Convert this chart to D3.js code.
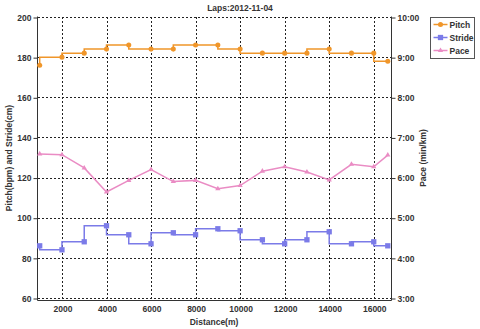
<!DOCTYPE html>
<html>
<head>
<meta charset="utf-8">
<script src="https://cdn.jsdelivr.net/npm/d3@7"></script>
<style>
body { margin: 0; background: #fff; }
text { font-family: "Liberation Sans", Arial, sans-serif; font-weight: bold; }
</style>
</head>
<body>
<div id="chart"></div>
<script>
// lap data
var distance = [1000, 2000, 3000, 4000, 5000, 6000, 7000, 8000, 9000, 10000, 11000, 12000, 13000, 14000, 15000, 16000, 16630]
var pitch = [176, 180, 182, 184, 186, 184, 184, 186, 186, 184, 182, 182, 182, 184, 182, 182, 178]
var stride = [86, 84, 88, 96, 91.5, 87, 92.5, 91.5, 94.5, 93.5, 89, 87, 89, 93, 87, 88, 86]
var pace = [6.59, 6.57, 6.24, 5.64, 5.93, 6.2, 5.9, 5.93, 5.72, 5.8, 6.16, 6.27, 6.14, 5.94, 6.33, 6.27, 6.56]
var xTicks = [2000, 4000, 6000, 8000, 10000, 12000, 14000, 16000]
var leftTicks = [60, 80, 100, 120, 140, 160, 180, 200]
var rightTicks = [3, 4, 5, 6, 7, 8, 9, 10]
var seriesNames = ['Pitch', 'Stride', 'Pace']
var colors = {Pitch: '#f0962a', Stride: '#7b7be8', Pace: '#ea8cc4'}

var width = 480, height = 329
var svg = d3.select('#chart').append('svg')
    .attr('width', width)
    .attr('height', height)

var x = d3.scaleLinear().domain([924, 16775]).range([38, 391])
var yL = d3.scaleLinear().domain([60, 200]).range([298, 17])
var yR = d3.scaleLinear().domain([3, 10]).range([298, 17])

// grid
var grid = svg.append('g')
grid.selectAll('.hg').data(leftTicks).enter().append('line')
    .attr('x1', 38).attr('x2', 391)
    .attr('y1', function (d) { return Math.round(yL(d)) + 0.5 })
    .attr('y2', function (d) { return Math.round(yL(d)) + 0.5 })
    .attr('stroke', '#222').attr('stroke-dasharray', '2,2')
grid.selectAll('.vg').data(xTicks).enter().append('line')
    .attr('y1', 17).attr('y2', 300)
    .attr('x1', function (d) { return Math.round(x(d)) + 0.5 })
    .attr('x2', function (d) { return Math.round(x(d)) + 0.5 })
    .attr('stroke', '#222').attr('stroke-dasharray', '2,2')

// axes
var fmtPace = function (d) { return d + ':00' }
var gl = svg.append('g').attr('transform', 'translate(37.5,0.5)')
    .call(d3.axisLeft(yL).tickValues(leftTicks).tickSizeOuter(0).tickSize(4).tickPadding(2))
var gr = svg.append('g').attr('transform', 'translate(391.5,0.5)')
    .call(d3.axisRight(yR).tickValues(rightTicks).tickFormat(fmtPace).tickSizeOuter(0).tickSize(4).tickPadding(2))
var gb = svg.append('g').attr('transform', 'translate(0.5,300.5)')
    .call(d3.axisBottom(x).tickValues(xTicks).tickFormat(d3.format('d')).tickSize(0).tickPadding(5))
gb.select('.domain').attr('d', 'M37,0H391')
;[gl, gr, gb].forEach(function (g) {
    g.selectAll('text').attr('font-size', '8.5px').attr('fill', '#333')
    g.selectAll('line, .domain').attr('stroke', '#333')
})
gl.select('.domain').attr('d', 'M0,16V300')
gr.select('.domain').attr('d', 'M0,16V300')

// lines
function series(vals, yScale, curve) {
    return d3.line()
        .x(function (d, i) { return x(distance[i]) })
        .y(function (d) { return yScale(d) })
        .curve(curve)(vals)
}
svg.append('path').attr('d', series(pitch, yL, d3.curveStepBefore))
    .attr('fill', 'none').attr('stroke', colors.Pitch).attr('stroke-width', 1.5)
svg.append('path').attr('d', series(stride, yL, d3.curveStepBefore))
    .attr('fill', 'none').attr('stroke', colors.Stride).attr('stroke-width', 1.5)
svg.append('path').attr('d', series(pace, yR, d3.curveLinear))
    .attr('fill', 'none').attr('stroke', colors.Pace).attr('stroke-width', 1.5)

var circ = d3.symbol().type(d3.symbolCircle).size(20)
var sq = d3.symbol().type(d3.symbolSquare).size(28)
var tri = d3.symbol().type(d3.symbolTriangle).size(12)
svg.selectAll('.pp').data(pitch).enter().append('path')
    .attr('d', circ).attr('fill', colors.Pitch)
    .attr('transform', function (d, i) { return 'translate(' + x(distance[i]) + ',' + yL(d) + ')' })
svg.selectAll('.sp').data(stride).enter().append('path')
    .attr('d', sq).attr('fill', colors.Stride)
    .attr('transform', function (d, i) { return 'translate(' + x(distance[i]) + ',' + yL(d) + ')' })
svg.selectAll('.tp').data(pace).enter().append('path')
    .attr('d', tri).attr('fill', colors.Pace)
    .attr('transform', function (d, i) { return 'translate(' + x(distance[i]) + ',' + yR(d) + ')' })

// titles
svg.append('text').attr('x', 240).attr('y', 11).attr('text-anchor', 'middle')
    .attr('font-size', '8.5px').attr('fill', '#333').text('Laps:2012-11-04')
svg.append('text').attr('x', 214).attr('y', 325).attr('text-anchor', 'middle')
    .attr('font-size', '8.5px').attr('fill', '#333').text('Distance(m)')
svg.append('text').attr('transform', 'translate(12,158) rotate(-90)').attr('text-anchor', 'middle')
    .attr('font-size', '8.5px').attr('fill', '#333').text('Pitch(bpm) and Stride(cm)')
svg.append('text').attr('transform', 'translate(426,158) rotate(-90)').attr('text-anchor', 'middle')
    .attr('font-size', '8.5px').attr('fill', '#333').text('Pace (min/km)')

// legend
var lg = svg.append('g').attr('transform', 'translate(430.5,17.5)')
lg.append('rect').attr('width', 44).attr('height', 41)
    .attr('fill', '#fff').attr('stroke', '#555')
var shapes = {Pitch: circ, Stride: sq, Pace: tri}
seriesNames.forEach(function (name, i) {
    var yy = 7 + i * 13
    lg.append('line').attr('x1', 3).attr('x2', 17).attr('y1', yy).attr('y2', yy)
        .attr('stroke', colors[name]).attr('stroke-width', 1.5)
    lg.append('path').attr('d', shapes[name]).attr('fill', colors[name])
        .attr('transform', 'translate(10,' + yy + ')')
    lg.append('text').attr('x', 19).attr('y', yy + 3).attr('font-size', '8.5px')
        .attr('fill', '#333').text(name)
})
</script>
</body>
</html>
